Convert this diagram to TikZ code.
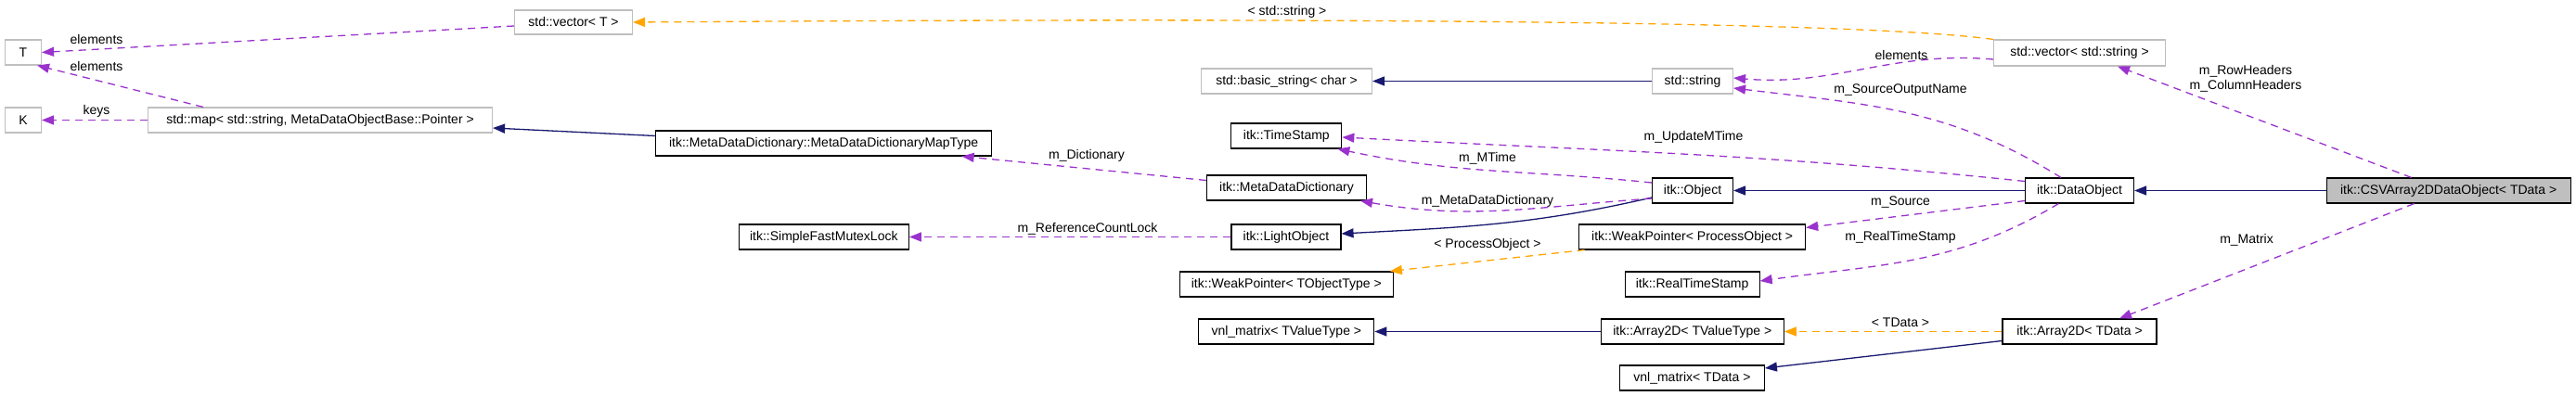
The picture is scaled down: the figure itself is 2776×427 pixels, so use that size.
\documentclass[tikz,border=0pt]{standalone}
\usepackage{fontspec}
\setmainfont{Liberation Sans}
\definecolor{EdgePurple}{HTML}{9A32CD}
\definecolor{EdgeNavy}{HTML}{191970}
\definecolor{EdgeOrange}{HTML}{FFA500}
\definecolor{BoxGray}{HTML}{BFBFBF}
\usetikzlibrary{arrows.meta,positioning}

\begin{document}
\begin{tikzpicture}[
    x=1pt, y=-1pt,
    cls/.style={draw, line width=1.1pt, fill=white, minimum height=27pt, inner sep=0pt, font=\fontsize{14}{16}\selectfont},
    extcls/.style={cls, draw=BoxGray},
    lbl/.style={inner sep=0pt, font=\fontsize{14}{16}\selectfont},
    inh/.style={EdgeNavy, line width=1.3pt, -{Triangle[length=13pt,width=10pt]}},
    mem/.style={EdgePurple, line width=1.3pt, dash pattern=on 8pt off 6pt, -{Triangle[length=13pt,width=10pt]}},
    tpl/.style={mem, EdgeOrange}
]
    \useasboundingbox (0,0) rectangle (2776,427);

    % classes
    \node[extcls, minimum width=39pt] (T) at (25,56.5) {T};
    \node[extcls, minimum width=39pt] (K) at (25,129.5) {K};
    \node[extcls, minimum width=371pt] (map) at (345,129.5) {std::map< std::string, MetaDataObjectBase::Pointer >};
    \node[extcls, minimum width=127pt, minimum height=26pt] (vecT) at (618,24) {std::vector< T >};
    \node[cls, minimum width=362pt] (maptype) at (887.6,154.5) {itk::MetaDataDictionary::MetaDataDictionaryMapType};
    \node[cls, minimum width=183pt] (mutex) at (887.8,255.5) {itk::SimpleFastMutexLock};
    \node[extcls, minimum width=184pt] (basic) at (1386.5,87.5) {std::basic\_string< char >};
    \node[cls, minimum width=119pt] (stamp) at (1386.3,146.5) {itk::TimeStamp};
    \node[cls, minimum width=172pt] (dict) at (1386.5,202.5) {itk::MetaDataDictionary};
    \node[cls, minimum width=118pt] (light) at (1386,255.5) {itk::LightObject};
    \node[cls, minimum width=230pt] (wpobj) at (1386.3,306.5) {itk::WeakPointer< TObjectType >};
    \node[cls, minimum width=189pt] (vnlval) at (1386.3,357.5) {vnl\_matrix< TValueType >};
    \node[extcls, minimum width=87pt] (str) at (1824,87.5) {std::string};
    \node[cls, minimum width=87pt] (obj) at (1824,205.5) {itk::Object};
    \node[cls, minimum width=244pt] (wpproc) at (1823.6,255.5) {itk::WeakPointer< ProcessObject >};
    \node[cls, minimum width=145pt] (rstamp) at (1823.6,306.5) {itk::RealTimeStamp};
    \node[cls, minimum width=197pt] (arrval) at (1823.8,357.5) {itk::Array2D< TValueType >};
    \node[cls, minimum width=156pt] (vnldata) at (1823.4,407.5) {vnl\_matrix< TData >};
    \node[extcls, minimum width=185pt, minimum height=28pt] (vecstr) at (2241,57) {std::vector< std::string >};
    \node[cls, minimum width=117pt] (dobj) at (2241,205.5) {itk::DataObject};
    \node[cls, minimum width=166pt] (arrdata) at (2241,357.5) {itk::Array2D< TData >};
    \node[cls, fill=BoxGray, minimum width=263pt] (csv) at (2638.6,205.5) {itk::CSVArray2DDataObject< TData >};

    % inheritance
    \draw[inh] ([yshift=8pt]maptype.west) -- ([yshift=-8.5pt]map.east);
    \draw[inh] (str.west) -- (basic.east);
    \draw[inh] (dobj.west) -- (obj.east);
    \draw[inh] ([yshift=-7.5pt]obj.west) to[out=193,in=3] ([yshift=3.5pt]light.east);
    \draw[inh] (csv.west) -- (dobj.east);
    \draw[inh] (arrval.west) -- (vnlval.east);
    \draw[inh] ([yshift=-10pt]arrdata.west) -- ([yshift=10.5pt]vnldata.east);

    % members
    \draw[mem] ([yshift=-4pt]vecT.west) -- (T.east);
    \draw[mem] ([xshift=-126pt]map.north) -- ([xshift=-5pt]T.south east);
    \draw[mem] (map.west) -- (K.east);
    \draw[mem] ([yshift=8pt]dict.west) -- ([xshift=149pt]maptype.south);
    \draw[mem] ([yshift=-7pt]vecstr.west) to[out=175,in=-5] ([yshift=3.5pt]str.east);
    \draw[mem] ([xshift=-20pt]dobj.north) to[out=148,in=-7] ([yshift=-7.5pt]str.east);
    \draw[mem] ([xshift=-40pt]csv.north) -- ([xshift=41pt]vecstr.south);
    \draw[mem] ([yshift=10pt]dobj.west) to[out=174,in=-3] ([yshift=-1.5pt]stamp.east);
    \draw[mem] ([yshift=8.5pt]obj.west) to[out=174,in=-12] ([xshift=-5pt]stamp.south east);
    \draw[mem] ([yshift=-8.5pt]obj.west) to[out=184,in=-10] ([xshift=-7pt]dict.south east);
    \draw[mem] (light.west) -- (mutex.east);
    \draw[mem] ([yshift=-11pt]dobj.west) -- ([yshift=10pt]wpproc.east);
    \draw[mem] ([xshift=-22.6pt]dobj.south) to[out=211,in=8] ([yshift=3.5pt]rstamp.east);
    \draw[mem] ([xshift=-37pt]csv.south) -- ([xshift=43pt]arrdata.north);

    % template instances
    \draw[tpl] (vecstr.north west) .. controls (2000,22) and (1400,19) .. (vecT.east);
    \draw[tpl] ([xshift=-116pt]wpproc.south) -- ([xshift=-4pt]wpobj.north east);
    \draw[tpl] (arrdata.west) -- (arrval.east);

    % edge labels
    \node[lbl] (lelemT) at (104,43) {elements};
    \node[lbl] (lelemM) at (104,72) {elements};
    \node[lbl] (lkeys) at (104,120) {keys};
    \node[lbl] (ldict) at (1171,168) {m\_Dictionary};
    \node[lbl] (lstrT) at (1387,13) {< std::string >};
    \node[lbl] (lelemS) at (2049,59) {elements};
    \node[lbl] (lsrcname) at (2048,97) {m\_SourceOutputName};
    \node[lbl, align=center] (lheaders) at (2420,85) {m\_RowHeaders\\m\_ColumnHeaders};
    \node[lbl] (lupdate) at (1825,148) {m\_UpdateMTime};
    \node[lbl] (lmtime) at (1603,171) {m\_MTime};
    \node[lbl] (lmeta) at (1603,217) {m\_MetaDataDictionary};
    \node[lbl] (lsource) at (2048,218) {m\_Source};
    \node[lbl] (lreal) at (2048,256) {m\_RealTimeStamp};
    \node[lbl] (lproc) at (1603,264) {< ProcessObject >};
    \node[lbl] (lcount) at (1172,247) {m\_ReferenceCountLock};
    \node[lbl] (lmatrix) at (2421,259) {m\_Matrix};
    \node[lbl] (ltdata) at (2048,348) {< TData >};
\end{tikzpicture}
\end{document}
